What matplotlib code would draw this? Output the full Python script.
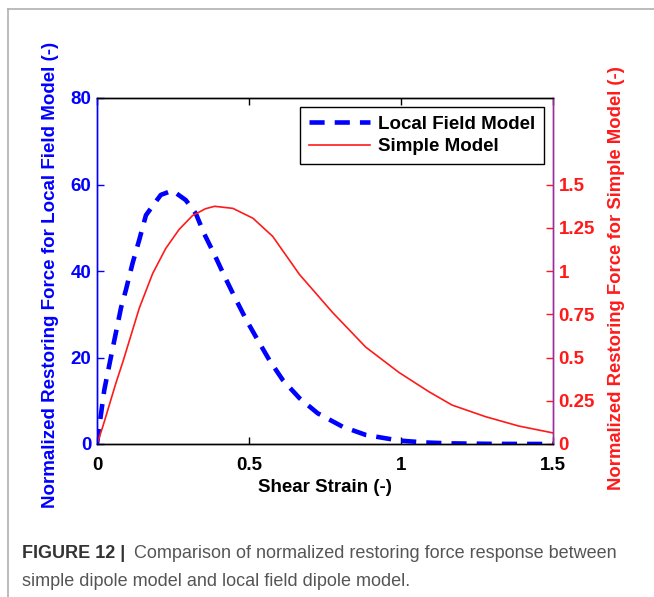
import matplotlib
matplotlib.use("Agg")
import matplotlib.pyplot as plt
from matplotlib.lines import Line2D

# ---- data ----
strain_lf = [0, 0.0075, 0.024, 0.046, 0.079, 0.095, 0.117, 0.139, 0.161, 0.193, 0.210,
             0.248, 0.292, 0.325, 0.352, 0.387, 0.420, 0.452, 0.491, 0.529, 0.567,
             0.611, 0.666, 0.726, 0.808, 0.884, 0.993, 1.08, 1.157, 1.3, 1.5]
force_lf = [0, 4.0, 12.5, 20.2, 31.5, 35.6, 41.8, 47.2, 52.9, 56.0, 57.6,
            58.6, 56.4, 53.3, 48.7, 43.7, 38.7, 34.1, 28.7, 24.0, 19.4,
            14.8, 10.6, 7.1, 4.0, 2.1, 0.8, 0.35, 0.15, 0.03, 0]

strain_simple = [0, 0.019, 0.062, 0.086, 0.139, 0.183, 0.226, 0.270, 0.314, 0.357,
                 0.387, 0.447, 0.513, 0.578, 0.666, 0.775, 0.884, 0.993, 1.092,
                 1.168, 1.278, 1.387, 1.5]
force_simple = [0, 0.10, 0.351, 0.48, 0.785, 0.985, 1.13, 1.24, 1.32, 1.36,
                1.374, 1.362, 1.305, 1.2, 0.98, 0.76, 0.56, 0.414, 0.302,
                0.225, 0.158, 0.104, 0.064]

xticks = [0, 0.5, 1, 1.5]
xticklabels = ["0", "0.5", "1", "1.5"]
lticks = [0, 20, 40, 60, 80]
rticks = [0, 0.25, 0.5, 0.75, 1, 1.25, 1.5]
rticklabels = ["0", "0.25", "0.5", "0.75", "1", "1.25", "1.5"]

FONT = ["Liberation Sans", "DejaVu Sans"]
plt.rcParams["font.family"] = FONT

BLUE = "#0000ff"
RED = "#ff1a1a"
FS = 13.5

fig = plt.figure(figsize=(6.54, 5.97), dpi=100)

# light frame (top and left edges)
fig.add_artist(Line2D([7.5/654, 7.5/654], [0, 1 - 9/597], transform=fig.transFigure,
                      color="#b0b0b0", lw=1.2))
fig.add_artist(Line2D([7.5/654, 1], [1 - 9/597, 1 - 9/597], transform=fig.transFigure,
                      color="#b0b0b0", lw=1.2))

ax = fig.add_axes([97/654, 1 - 444/597, 456/654, 346/597])
ax2 = ax.twinx()

ax.plot(strain_lf, force_lf, color=BLUE, lw=3.3, linestyle=(0, (3.3, 2.2)),
        label="Local Field Model", zorder=3)
ax2.plot(strain_simple, force_simple, color=RED, lw=1.2, label="Simple Model", zorder=2)

ax.set_xlim(0, 1.5)
ax.set_ylim(0, 80)
ax2.set_ylim(0, 2)

ax.set_xticks(xticks)
ax.set_xticklabels(xticklabels)
ax.set_yticks(lticks)
ax2.set_yticks(rticks)
ax2.set_yticklabels(rticklabels)

tick_font = dict(fontsize=FS, fontweight="bold")
for lab in ax.get_xticklabels():
    lab.set(**tick_font, color="black")
for lab in ax.get_yticklabels():
    lab.set(**tick_font, color=BLUE)
for lab in ax2.get_yticklabels():
    lab.set(**tick_font, color=RED)

ax.tick_params(axis="x", direction="in", length=5, width=1, top=True, pad=9, colors="black")
ax.tick_params(axis="y", direction="in", length=5, width=1, pad=4, colors=BLUE)
ax2.tick_params(axis="y", direction="in", length=5, width=1, pad=4, colors=RED)

for a in (ax, ax2):
    a.spines["top"].set_color("black")
    a.spines["bottom"].set_color("black")
    a.spines["left"].set_color(BLUE)
    a.spines["right"].set_color("#9b2c9b")
    for s in a.spines.values():
        s.set_linewidth(1.0)
ax2.patch.set_visible(False)

ax.set_xlabel("Shear Strain (-)", fontsize=FS, fontweight="bold", color="black", labelpad=4)
ax.set_ylabel("Normalized Restoring Force for Local Field Model (-)", fontsize=FS,
              fontweight="bold", color=BLUE)
ax.yaxis.set_label_coords(-0.083, 0.488)
ax2.set_ylabel("Normalized Restoring Force for Simple Model (-)", fontsize=13.3,
               fontweight="bold", color=RED)
ax2.yaxis.set_label_coords(1.121, 0.48)

h1, l1 = ax.get_legend_handles_labels()
h2, l2 = ax2.get_legend_handles_labels()
leg = ax2.legend(h1 + h2, l1 + l2, loc="upper right", bbox_to_anchor=(0.980, 0.974),
                 frameon=True, fancybox=False, edgecolor="black", framealpha=1,
                 prop=dict(family=FONT, size=FS, weight="bold"),
                 handlelength=3.25, borderpad=0.45, labelspacing=0.3, handletextpad=0.45,
                 borderaxespad=0)
leg.get_frame().set_linewidth(1.0)

# caption
y1 = 1 - 554/597
t1 = fig.text(22/654, y1, "FIGURE 12 |", fontsize=13, fontweight="bold",
              color="#333333", va="center", ha="left")
fig.canvas.draw()
bb = t1.get_window_extent(renderer=fig.canvas.get_renderer())
x2 = (bb.x1 + 9) / fig.bbox.width
fig.text(x2, y1, "Comparison of normalized restoring force response between",
         fontsize=13, color="#555555", va="center", ha="left")
fig.text(22/654, 1 - 581/597, "simple dipole model and local field dipole model.",
         fontsize=13, color="#555555", va="center", ha="left")

fig.savefig("out.png", dpi=100)
